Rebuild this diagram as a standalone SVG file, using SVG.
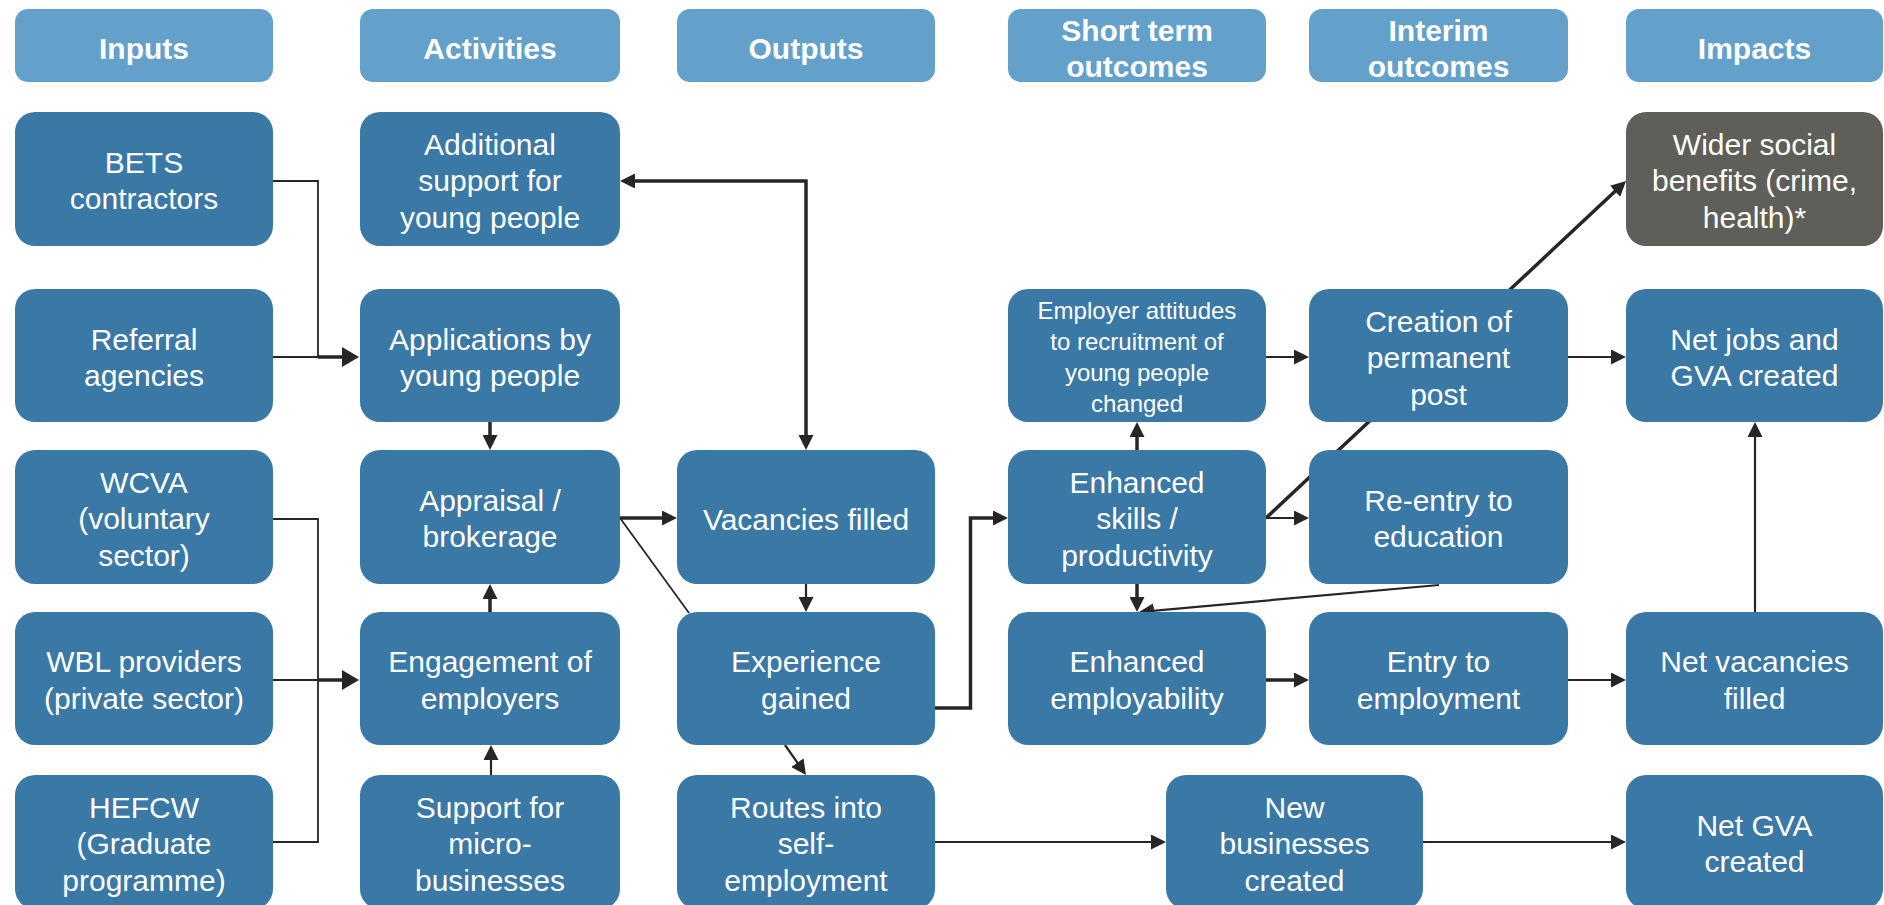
<svg xmlns="http://www.w3.org/2000/svg" width="1884" height="905" viewBox="0 0 1884 905">
<style>
.hd{fill:#63A0CA}
.nd{fill:#3A78A6}
.gr{fill:#5F5F5A}
text{font-family:"Liberation Sans",Arial,sans-serif;fill:#FFFFFF;text-anchor:middle}
.ht{font-size:30px;font-weight:bold}
.nt{font-size:30px}
.st{font-size:24px}
.c{fill:none;stroke:#262626;stroke-linejoin:miter}
.t1{stroke-width:1.8}
.t2{stroke-width:2.2}
.t3{stroke-width:3.5}
</style>
<defs>
<marker id="a" markerUnits="userSpaceOnUse" markerWidth="15" markerHeight="15" refX="7" refY="7.5" orient="auto-start-reverse" viewBox="0 0 15 15"><path d="M0,0 L15,7.5 L0,15 z" fill="#262626"/></marker>
<marker id="b" markerUnits="userSpaceOnUse" markerWidth="17" markerHeight="20" refX="9" refY="10" orient="auto" viewBox="0 0 17 20"><path d="M0,0 L17,10 L0,20 z" fill="#262626"/></marker>
</defs>

<g id="connectors">
<path class="c t1" d="M273,181 H318 V357"/>
<path class="c t1" d="M273,357 H318"/>
<path class="c t3" d="M318,357 H351" marker-end="url(#b)"/>
<path class="c t1" d="M273,519 H318 V842 H273"/>
<path class="c t1" d="M273,680 H318"/>
<path class="c t3" d="M318,680 H351" marker-end="url(#b)"/>
<path class="c t3" d="M628,181 H806 V442" marker-start="url(#a)" marker-end="url(#a)"/>
<path class="c t3" d="M490,422 V442" marker-end="url(#a)"/>
<path class="c t3" d="M490,612 V592" marker-end="url(#a)"/>
<path class="c t2" d="M491,775 V753" marker-end="url(#a)"/>
<path class="c t3" d="M620,518 H669" marker-end="url(#a)"/>
<path class="c t1" d="M620,518 L689,613"/>
<path class="c t2" d="M806,584 V604" marker-end="url(#a)"/>
<path class="c t3" d="M935,708 H970.5 V518 H1000" marker-end="url(#a)"/>
<path class="c t2" d="M785,745 L801.4,768.4" marker-end="url(#a)"/>
<path class="c t3" d="M1137,450 V430" marker-end="url(#a)"/>
<path class="c t3" d="M1137,584 V604" marker-end="url(#a)"/>
<path class="c t2" d="M1439,585 L1147,611.3" marker-end="url(#a)"/>
<path class="c t2" d="M1266,518 H1301" marker-end="url(#a)"/>
<path class="c t3" d="M1266,518 L1620.2,186.5" marker-end="url(#a)"/>
<path class="c t2" d="M1266,357 H1301" marker-end="url(#a)"/>
<path class="c t2" d="M1568,357 H1618" marker-end="url(#a)"/>
<path class="c t3" d="M1266,680 H1301" marker-end="url(#a)"/>
<path class="c t2" d="M1568,680 H1618" marker-end="url(#a)"/>
<path class="c t2" d="M1755,612 V430" marker-end="url(#a)"/>
<path class="c t2" d="M935,842 H1158" marker-end="url(#a)"/>
<path class="c t2" d="M1423,842 H1618" marker-end="url(#a)"/>
</g>

<g id="h-inputs"><rect class="hd" x="15" y="9" width="258" height="73" rx="13"/><text class="ht" x="144" y="59">Inputs</text></g>
<g id="h-activities"><rect class="hd" x="360" y="9" width="260" height="73" rx="13"/><text class="ht" x="490" y="59">Activities</text></g>
<g id="h-outputs"><rect class="hd" x="677" y="9" width="258" height="73" rx="13"/><text class="ht" x="806" y="59">Outputs</text></g>
<g id="h-short"><rect class="hd" x="1008" y="9" width="258" height="73" rx="13"/><text class="ht" x="1137" y="41">Short term</text><text class="ht" x="1137" y="77">outcomes</text></g>
<g id="h-interim"><rect class="hd" x="1309" y="9" width="259" height="73" rx="13"/><text class="ht" x="1438.5" y="41">Interim</text><text class="ht" x="1438.5" y="77">outcomes</text></g>
<g id="h-impacts"><rect class="hd" x="1626" y="9" width="257" height="73" rx="13"/><text class="ht" x="1754.5" y="59">Impacts</text></g>

<g id="bets"><rect class="nd" x="15" y="112" width="258" height="134" rx="20"/><text class="nt" x="144" y="172.8">BETS</text><text class="nt" x="144" y="209.2">contractors</text></g>
<g id="referral"><rect class="nd" x="15" y="289" width="258" height="133" rx="20"/><text class="nt" x="144" y="349.8">Referral</text><text class="nt" x="144" y="386.2">agencies</text></g>
<g id="wcva"><rect class="nd" x="15" y="450" width="258" height="134" rx="20"/><text class="nt" x="144" y="492.5">WCVA</text><text class="nt" x="144" y="529">(voluntary</text><text class="nt" x="144" y="565.5">sector)</text></g>
<g id="wbl"><rect class="nd" x="15" y="612" width="258" height="133" rx="20"/><text class="nt" x="144" y="672.3">WBL providers</text><text class="nt" x="144" y="708.7">(private sector)</text></g>
<g id="hefcw"><rect class="nd" x="15" y="775" width="258" height="134" rx="20"/><text class="nt" x="144" y="817.5">HEFCW</text><text class="nt" x="144" y="854">(Graduate</text><text class="nt" x="144" y="890.5">programme)</text></g>

<g id="additional"><rect class="nd" x="360" y="112" width="260" height="134" rx="20"/><text class="nt" x="490" y="154.5">Additional</text><text class="nt" x="490" y="191">support for</text><text class="nt" x="490" y="227.5">young people</text></g>
<g id="applications"><rect class="nd" x="360" y="289" width="260" height="133" rx="20"/><text class="nt" x="490" y="349.8">Applications by</text><text class="nt" x="490" y="386.2">young people</text></g>
<g id="appraisal"><rect class="nd" x="360" y="450" width="260" height="134" rx="20"/><text class="nt" x="490" y="510.8">Appraisal /</text><text class="nt" x="490" y="547.2">brokerage</text></g>
<g id="engagement"><rect class="nd" x="360" y="612" width="260" height="133" rx="20"/><text class="nt" x="490" y="672.3">Engagement of</text><text class="nt" x="490" y="708.7">employers</text></g>
<g id="support"><rect class="nd" x="360" y="775" width="260" height="134" rx="20"/><text class="nt" x="490" y="817.5">Support for</text><text class="nt" x="490" y="854">micro-</text><text class="nt" x="490" y="890.5">businesses</text></g>

<g id="vacancies"><rect class="nd" x="677" y="450" width="258" height="134" rx="20"/><text class="nt" x="806" y="529.5">Vacancies filled</text></g>
<g id="experience"><rect class="nd" x="677" y="612" width="258" height="133" rx="20"/><text class="nt" x="806" y="672.3">Experience</text><text class="nt" x="806" y="708.7">gained</text></g>
<g id="routes"><rect class="nd" x="677" y="775" width="258" height="134" rx="20"/><text class="nt" x="806" y="817.5">Routes into</text><text class="nt" x="806" y="854">self-</text><text class="nt" x="806" y="890.5">employment</text></g>

<g id="employer"><rect class="nd" x="1008" y="289" width="258" height="133" rx="20"/><text class="st" x="1137" y="318.5">Employer attitudes</text><text class="st" x="1137" y="349.8">to recruitment of</text><text class="st" x="1137" y="381.1">young people</text><text class="st" x="1137" y="412.4">changed</text></g>
<g id="skills"><rect class="nd" x="1008" y="450" width="258" height="134" rx="20"/><text class="nt" x="1137" y="492.5">Enhanced</text><text class="nt" x="1137" y="529">skills /</text><text class="nt" x="1137" y="565.5">productivity</text></g>
<g id="employability"><rect class="nd" x="1008" y="612" width="258" height="133" rx="20"/><text class="nt" x="1137" y="672.3">Enhanced</text><text class="nt" x="1137" y="708.7">employability</text></g>
<g id="newbiz"><rect class="nd" x="1166" y="775" width="257" height="134" rx="20"/><text class="nt" x="1294.5" y="817.5">New</text><text class="nt" x="1294.5" y="854">businesses</text><text class="nt" x="1294.5" y="890.5">created</text></g>

<g id="creation"><rect class="nd" x="1309" y="289" width="259" height="133" rx="20"/><text class="nt" x="1438.5" y="331.5">Creation of</text><text class="nt" x="1438.5" y="368">permanent</text><text class="nt" x="1438.5" y="404.5">post</text></g>
<g id="reentry"><rect class="nd" x="1309" y="450" width="259" height="134" rx="20"/><text class="nt" x="1438.5" y="510.8">Re-entry to</text><text class="nt" x="1438.5" y="547.2">education</text></g>
<g id="entry"><rect class="nd" x="1309" y="612" width="259" height="133" rx="20"/><text class="nt" x="1438.5" y="672.3">Entry to</text><text class="nt" x="1438.5" y="708.7">employment</text></g>

<g id="wider"><rect class="gr" x="1626" y="112" width="257" height="134" rx="20"/><text class="nt" x="1754.5" y="154.5">Wider social</text><text class="nt" x="1754.5" y="191">benefits (crime,</text><text class="nt" x="1754.5" y="227.5">health)*</text></g>
<g id="netjobs"><rect class="nd" x="1626" y="289" width="257" height="133" rx="20"/><text class="nt" x="1754.5" y="349.8">Net jobs and</text><text class="nt" x="1754.5" y="386.2">GVA created</text></g>
<g id="netvac"><rect class="nd" x="1626" y="612" width="257" height="133" rx="20"/><text class="nt" x="1754.5" y="672.3">Net vacancies</text><text class="nt" x="1754.5" y="708.7">filled</text></g>
<g id="netgva"><rect class="nd" x="1626" y="775" width="257" height="134" rx="20"/><text class="nt" x="1754.5" y="836">Net GVA</text><text class="nt" x="1754.5" y="872">created</text></g>
</svg>
